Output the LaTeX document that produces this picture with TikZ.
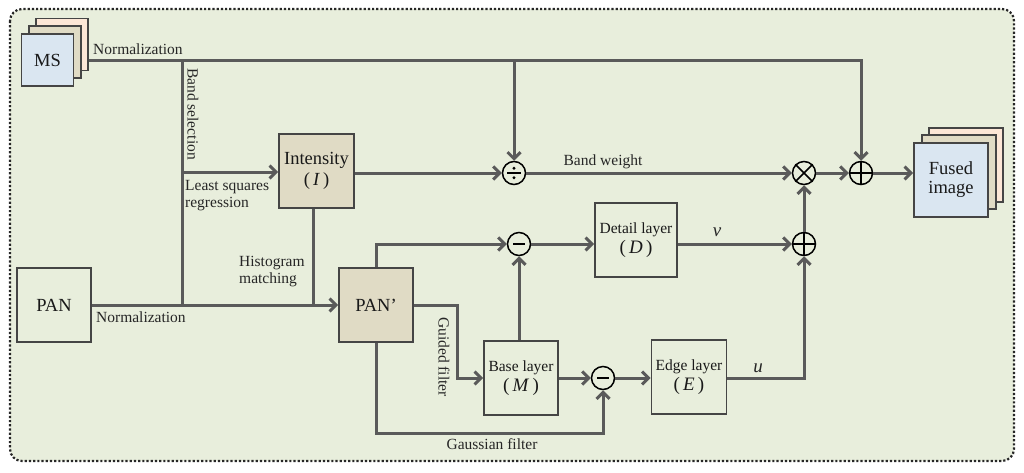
\documentclass[tikz,border=0pt]{standalone}
\usepackage{fontspec}
\setmainfont{Liberation Serif}
\usetikzlibrary{arrows.meta}
\definecolor{bg}{HTML}{E8EEDC}
\definecolor{ln}{HTML}{5A5A5A}
\definecolor{bx}{HTML}{454545}
\definecolor{tanf}{HTML}{E0DBC5}
\definecolor{msblue}{HTML}{DAE6F1}
\definecolor{peach}{HTML}{FCE6D6}
\begin{document}
\begin{tikzpicture}[x=1pt,y=-1pt,
  conn/.style={draw=ln,line width=3pt},
  arr/.style={conn,-{Straight Barb[length=6.5pt,width=13pt]}},
  box/.style={draw=bx,line width=1.6pt,minimum width=74pt,minimum height=74pt,inner sep=0pt,align=center,text=black!90,font=\fontsize{18.5}{21}\selectfont},
  sbox/.style={box,font=\fontsize{15.5}{20}\selectfont},
  big/.style={font=\fontsize{19}{21}\selectfont},
  layer/.style={box,minimum width=52pt,minimum height=52pt},
  op/.style={circle,draw=black,line width=1.5pt,minimum size=23pt,inner sep=0pt},
  sym/.style={draw=black,line width=1.5pt},
  lbl/.style={font=\fontsize{15.5}{17.5}\selectfont,text=black!85,inner sep=0pt,align=left}
]
\useasboundingbox (0,0) rectangle (1024,472);
\draw[fill=bg,draw=black!85,line width=2.2pt,dotted,rounded corners=12pt] (10,9) rectangle (1014,461);

% MS stack
\node[layer,fill=peach] (ms3) at (62,44.5) {};
\node[layer,fill=tanf] (ms2) at (55,52) {};
\node[layer,fill=msblue] (ms) at (47.5,60) {MS};

% Fused image stack
\node[box,fill=peach] (fus3) at (966,165) {};
\node[box,fill=tanf] (fus2) at (959,172) {};
\node[box,fill=msblue] (fus) at (951,180) {Fused\\[-2pt]image};

% boxes
\node[box,fill=tanf,minimum width=75pt] (int) at (316.5,171) {Intensity\\(\,\textit{I}\,)};
\node[box] (pan) at (54,305) {PAN};
\node[box,fill=tanf] (pp) at (376,305) {PAN’};
\node[sbox,minimum width=82pt] (det) at (636,240) {Detail layer\\{\fontsize{19}{21}\selectfont(\,\textit{D}\,)}};
\node[sbox] (base) at (521,378) {Base layer\\{\fontsize{19}{21}\selectfont(\,\textit{M}\,)}};
\node[sbox,minimum width=75pt] (edge) at (689,377) {Edge layer\\{\fontsize{19}{21}\selectfont(\,\textit{E}\,)}};

% operators
\node[op] (div) at (514,173) {};
\node[op] (mul) at (804,173) {};
\node[op] (add1) at (861,173) {};
\node[op] (m1) at (519,244) {};
\node[op] (add2) at (804,244) {};
\node[op] (m2) at (603,378) {};
\draw[sym] ([xshift=-7pt]div.center) -- ([xshift=7pt]div.center);
\fill (div.center) ++(0,-4.8) circle (1.6pt);
\fill (div.center) ++(0,4.8) circle (1.6pt);
\draw[sym] (mul.north east) -- (mul.south west) (mul.north west) -- (mul.south east);
\draw[sym] (add1.north) -- (add1.south) (add1.west) -- (add1.east);
\draw[sym] (add2.north) -- (add2.south) (add2.west) -- (add2.east);
\draw[sym,line width=2pt] ([xshift=-6pt]m1.center) -- ([xshift=6pt]m1.center);
\draw[sym,line width=2pt] ([xshift=-6pt]m2.center) -- ([xshift=6pt]m2.center);

% junction coordinates
\coordinate (msr) at (ms3.east |- ms.center);
\coordinate (j1) at (182,60);
\coordinate (j2) at (182,172);
\coordinate (j3) at (182,305);
\coordinate (g1) at (457,378);
\coordinate (g2) at (376,433);

% connectors
\draw[arr] (msr) -| (add1);
\draw[arr] (div |- msr) -- (div);
\draw[conn] (j1) -- (j3);
\draw[arr] (j2) -- (j2 -| int.west);
\draw[arr] (pan) -- (pp);
\draw[conn] ([xshift=-3pt]int.south) -- ([xshift=-3pt]int.south |- pp);
\draw[arr] (int.east |- div) -- (div);
\draw[arr] (div) -- (mul);
\draw[arr] (mul) -- (add1);
\draw[arr] (add1) -- (add1 -| fus.west);
\draw[arr] (pp.north) |- (m1);
\draw[arr] (m1) -- (m1 -| det.west);
\draw[arr] (det.east |- add2) -- (add2);
\draw[arr] (add2) -- (mul);
\draw[arr] (pp.east) -| (g1) -- (base.west);
\draw[arr] (base.north -| m1) -- (m1);
\draw[arr] (base) -- (m2);
\draw[arr] (m2) -- (m2 -| edge.west);
\draw[arr] (m2 -| edge.east) -| (add2);
\draw[arr] (pp.south) -- (g2) -| (m2);

% labels
\node[lbl,anchor=west] (l1) at (93,49) {Normalization};
\node[lbl,rotate=-90] (l2) at (193,114) {Band selection};
\node[lbl,anchor=north west] (l3) at (185,180) {Least squares\\regression};
\node[lbl,anchor=north west] (l4) at (239,256) {Histogram\\matching};
\node[lbl,anchor=west] (l5) at (96,317) {Normalization};
\node[lbl,rotate=-90] (l6) at (444,357) {Guided filter};
\node[lbl] (l7) at (492,444) {Gaussian filter};
\node[lbl] (l8) at (603,162) {Band weight};
\node[lbl,font=\fontsize{19}{21}\selectfont\itshape] (l9) at (717,232) {v};
\node[lbl,font=\fontsize{19}{21}\selectfont\itshape] (l10) at (758,368) {u};
\end{tikzpicture}
\end{document}
